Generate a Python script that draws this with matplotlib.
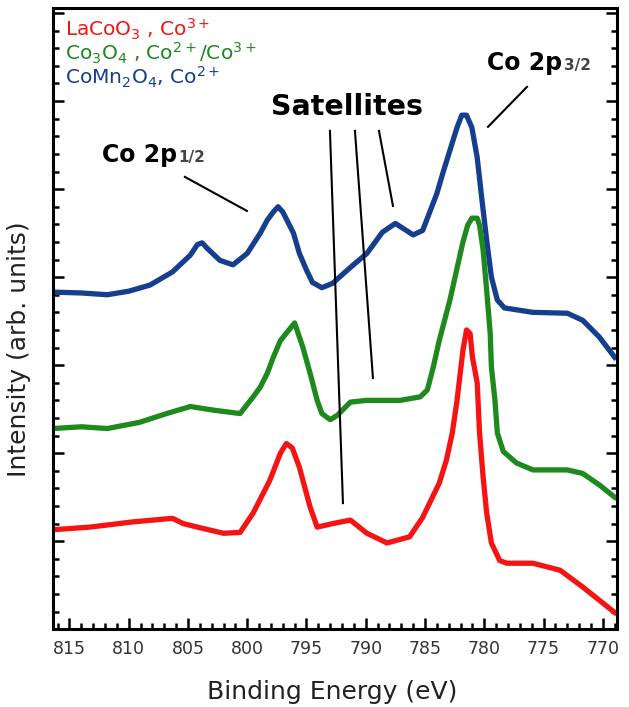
import matplotlib
matplotlib.use("Agg")
import matplotlib.pyplot as plt
from matplotlib.ticker import MultipleLocator

# binding energy (eV) and intensity (arb. units, offset stacked)
e_blue = [816.4, 814.0, 811.8, 810.0, 808.2, 806.3, 804.8, 804.2, 803.8, 803.4, 802.3,
          801.2, 800.0, 798.9, 798.3, 797.8, 797.4, 797.0, 796.1, 795.6, 795.0, 794.5,
          793.7, 792.8, 791.3, 789.9, 788.6, 787.5, 786.0, 785.2, 784.0, 783.5, 782.9,
          782.3, 781.9, 781.5, 781.05, 780.6, 780.2, 779.8, 779.4, 778.9, 778.3, 775.9,
          773.0, 771.7, 770.3, 769.0]
i_blue = [3.83, 3.82, 3.80, 3.84, 3.91, 4.06, 4.25, 4.37, 4.39, 4.33, 4.19,
          4.14, 4.27, 4.50, 4.65, 4.74, 4.80, 4.74, 4.50, 4.27, 4.08, 3.94,
          3.88, 3.93, 4.11, 4.27, 4.51, 4.61, 4.48, 4.53, 4.95, 5.18, 5.44,
          5.70, 5.84, 5.84, 5.70, 5.36, 4.88, 4.42, 4.00, 3.74, 3.65, 3.60,
          3.59, 3.51, 3.32, 3.09]

e_green = [816.4, 814.0, 811.8, 809.1, 806.8, 804.8, 802.9, 800.6, 799.5, 798.9, 798.3,
           797.8, 797.2, 796.6, 796.0, 795.7, 795.3, 794.7, 794.1, 793.7, 793.0, 792.4,
           791.3, 789.9, 787.1, 785.4, 784.8, 784.3, 783.8, 782.9, 781.8, 781.4, 781.05,
           780.6, 780.4, 780.1, 779.8, 779.5, 779.4, 779.1, 778.9, 778.4, 777.3, 775.9,
           773.0, 771.7, 770.3, 769.0]
i_green = [2.28, 2.30, 2.28, 2.35, 2.45, 2.53, 2.49, 2.45, 2.64, 2.75, 2.91,
           3.09, 3.28, 3.38, 3.48, 3.36, 3.20, 2.91, 2.60, 2.45, 2.38, 2.43,
           2.58, 2.60, 2.60, 2.64, 2.72, 2.98, 3.28, 3.74, 4.40, 4.59, 4.67,
           4.67, 4.59, 4.31, 3.85, 3.36, 2.98, 2.60, 2.23, 2.02, 1.89, 1.81,
           1.81, 1.77, 1.64, 1.50]

e_red = [816.4, 813.3, 809.6, 806.3, 805.4, 804.2, 802.0, 800.6, 799.5, 798.1, 797.2,
         796.7, 796.2, 795.6, 794.7, 794.1, 792.8, 791.3, 789.9, 788.2, 786.3, 785.2,
         783.8, 783.2, 782.7, 782.3, 781.8, 781.5, 781.2, 781.0, 780.6, 780.4, 780.1,
         779.8, 779.4, 778.7, 778.1, 775.9, 773.6, 771.7, 770.3, 769.0]
i_red = [1.13, 1.16, 1.22, 1.26, 1.20, 1.16, 1.09, 1.10, 1.32, 1.69, 2.00,
         2.11, 2.06, 1.84, 1.39, 1.16, 1.20, 1.24, 1.09, 0.98, 1.05, 1.27,
         1.66, 1.92, 2.23, 2.60, 3.17, 3.40, 3.36, 3.09, 2.80, 2.23, 1.73,
         1.32, 0.98, 0.78, 0.75, 0.75, 0.67, 0.48, 0.33, 0.19]

x_ticks = [815, 810, 805, 800, 795, 790, 785, 780, 775, 770]

red = "#f41414"
green = "#1e8a1e"
blue = "#153f8e"

fig = plt.figure(figsize=(6.29, 7.07), dpi=100)
ax = fig.add_axes([0.084, 0.110, 0.897, 0.879])

ax.plot(e_blue, i_blue, color=blue, lw=3.8, solid_joinstyle="round")
ax.plot(e_green, i_green, color=green, lw=3.8, solid_joinstyle="round")
ax.plot(e_red, i_red, color=red, lw=3.8, solid_joinstyle="round")

ax.set_xlim(816.4, 768.8)
ax.set_ylim(0, 7.06)
ax.set_xticks(x_ticks)
ax.xaxis.set_minor_locator(MultipleLocator(1))
ax.yaxis.set_major_locator(MultipleLocator(1))
ax.yaxis.set_minor_locator(MultipleLocator(0.2))
ax.set_yticklabels([])
ax.tick_params(axis="both", which="both", direction="in", width=1.8, colors="black")
ax.tick_params(axis="both", which="major", length=8)
ax.tick_params(axis="both", which="minor", length=4.5)
ax.tick_params(axis="y", which="both", left=True, right=True)
ax.tick_params(axis="x", which="both", top=False, labelsize=12.5, labelcolor="#333333", pad=8)
for sp in ax.spines.values():
    sp.set_linewidth(2.2)

ax.set_xlabel("Binding Energy (eV)", fontsize=18, color="#222222")
ax.xaxis.set_label_coords(0.495, -0.082)
ax.set_ylabel("Intensity (arb. units)", fontsize=18, color="#222222")
ax.yaxis.set_label_coords(-0.039, 0.45)


def px(x, y):
    # figure pixel position (from top-left) to axes fraction
    return ((x - 53) / 564, (629 - y) / 621)


# legend-like labels
ax.text(*px(65, 37), r"LaCoO$_3$ , Co$^{3+}$", transform=ax.transAxes, color=red,
        fontsize=14.5, va="baseline")
ax.text(*px(65, 61), r"Co$_3$O$_4$ , Co$^{2+}$/Co$^{3+}$", transform=ax.transAxes,
        color=green, fontsize=14.5, va="baseline")
ax.text(*px(65, 85), r"CoMn$_2$O$_4$, Co$^{2+}$", transform=ax.transAxes, color=blue,
        fontsize=14.5, va="baseline")

t1 = ax.text(*px(102, 162), "Co 2p", transform=ax.transAxes, fontsize=17,
             fontweight="bold", va="baseline")
ax.annotate("1/2", xy=(1, 0.22), xycoords=t1, fontsize=11, fontweight="bold",
            color="#444444", va="baseline", xytext=(1, 0), textcoords="offset points")
t2 = ax.text(*px(487, 70), "Co 2p", transform=ax.transAxes, fontsize=17,
             fontweight="bold", va="baseline")
ax.annotate("3/2", xy=(1, 0.22), xycoords=t2, fontsize=11, fontweight="bold",
            color="#444444", va="baseline", xytext=(1, 0), textcoords="offset points")
ax.text(*px(271, 115), "Satellites", transform=ax.transAxes, fontsize=20.5,
        fontweight="bold", va="baseline")

for (x0, y0), (x1, y1) in [((185, 177), (247, 211)), ((527, 87), (488, 127)),
                           ((330, 131), (343, 503)), ((355, 131), (373, 378)),
                           ((379, 131), (393, 206))]:
    a, b = px(x0, y0), px(x1, y1)
    ax.plot([a[0], b[0]], [a[1], b[1]], transform=ax.transAxes, color="black", lw=1.5)

fig.savefig("out.png", dpi=100)
